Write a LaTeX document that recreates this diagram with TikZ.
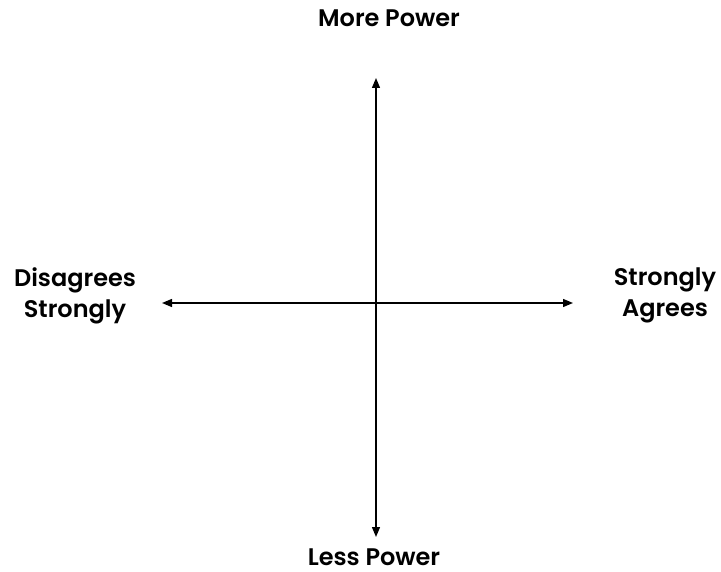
\documentclass[tikz,border=0pt]{standalone}
\usepackage{fontspec}
\setmainfont{Poppins}[BoldFont={Poppins SemiBold}]
\usetikzlibrary{arrows.meta}
\begin{document}
\begin{tikzpicture}[x=1pt,y=-1pt,
  axis/.style={line width=1.3pt,{Triangle[length=10pt,width=8pt]}-{Triangle[length=10pt,width=8pt]}},
  lbl/.style={font=\fontsize{24}{31}\selectfont\bfseries,align=center,inner sep=0pt}]
\useasboundingbox (0,0) rectangle (721,572);
\coordinate (top) at (376,78);
\coordinate (bot) at (376,537);
\coordinate (lft) at (162,303);
\coordinate (rgt) at (573,303);
\draw[axis] (bot) -- (top);
\draw[axis] (lft) -- (rgt);
\node[lbl,anchor=base] (more) at (389,27) {More Power};
\node[lbl,anchor=base] (less) at (374,565) {Less Power};
\node[lbl] (dis) at (75,296) {Disagrees\\Strongly};
\node[lbl] (agr) at (665,295) {Strongly\\Agrees};
\end{tikzpicture}
\end{document}
